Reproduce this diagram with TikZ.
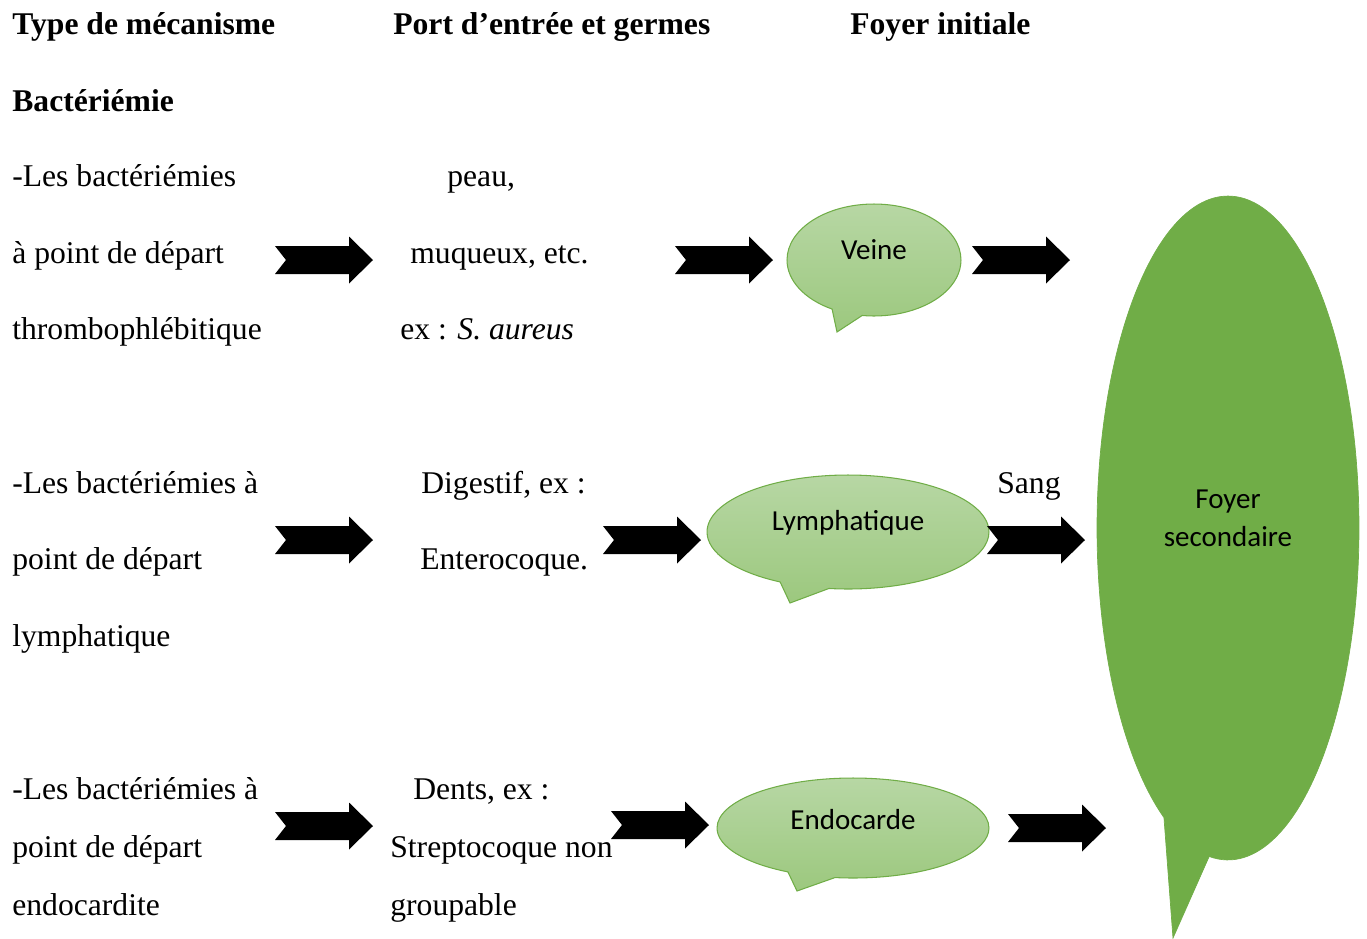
\documentclass[tikz,border=0pt]{standalone}
\usepackage{fontspec}
\setmainfont{Liberation Serif}
\newfontfamily\calfont{Carlito}
\usetikzlibrary{shapes.callouts}
\definecolor{vert}{RGB}{112,173,71}
\definecolor{vertclair}{RGB}{183,215,164}
\definecolor{vertmoyen}{RGB}{156,200,126}

\begin{document}
\begin{tikzpicture}[x = 0.02cm, y = -0.02cm,
    txt/.style = { anchor = base west, inner sep = 0, font = \fontsize{18}{22}\selectfont },
    titre/.style = { txt, font = \fontsize{18}{22}\selectfont\bfseries },
    bulle/.style = { ellipse callout, draw = vert, line width = .6pt, inner sep = 0,
                     callout pointer arc = 21, top color = vertclair, bottom color = vertmoyen },
    bultxt/.style = { inner sep = 0, align = center, font = \calfont\fontsize{16.5}{21.6}\selectfont },
    fatarrow/.pic = { \fill (0,-14) -- (74,-14) -- (74,-23.5) -- (98,0) -- (74,23.5) -- (74,14) -- (0,14) -- (11,0) -- cycle; }]
    \useasboundingbox (0,0) rectangle (1367,938);

    % en-tetes
    \node[titre] (t1) at (12,34) {Type de mécanisme};
    \node[titre] (t2) at (393,34) {Port d’entrée et germes};
    \node[titre] (t3) at (850,34) {Foyer initiale};
    \node[titre] (t4) at (12,111) {Bactériémie};

    % colonne mecanisme
    \node[txt] (m1) at (12,186) {-Les bactériémies};
    \node[txt] (m2) at (12,263) {à point de départ};
    \node[txt] (m3) at (12,339) {thrombophlébitique};
    \node[txt] (m4) at (12,493) {-Les bactériémies à};
    \node[txt] (m5) at (12,569) {point de départ};
    \node[txt] (m6) at (12,646) {lymphatique};
    \node[txt] (m7) at (12,799) {-Les bactériémies à};
    \node[txt] (m8) at (12,857) {point de départ};
    \node[txt] (m9) at (12,915) {endocardite};

    % colonne port d'entree
    \node[txt] (p1) at (447,186) {peau,};
    \node[txt] (p2) at (410,263) {muqueux, etc.};
    \node[txt] (p3) at (400,339) {ex : \textit{S. aureus}};
    \node[txt] (p4) at (421,493) {Digestif, ex :};
    \node[txt] (p5) at (420,569) {Enterocoque.};
    \node[txt] (p6) at (413,799) {Dents, ex :};
    \node[txt] (p7) at (390,857) {Streptocoque non};
    \node[txt] (p8) at (390,915) {groupable};
    \node[txt] (sang) at (997,493) {Sang};

    % bulles
    \node[bulle, minimum width = 3.48cm, minimum height = 2.24cm, callout absolute pointer = {(837,332)}] (veine) at (874,260) {};
    \node[bulle, minimum width = 5.64cm, minimum height = 2.28cm, callout absolute pointer = {(790,603)}] (lymph) at (848,532) {};
    \node[bulle, minimum width = 5.44cm, minimum height = 2.0cm, callout absolute pointer = {(797,891)}] (endo) at (853,828) {};
    \node[ellipse callout, fill = vert, draw = vert, inner sep = 0, callout pointer arc = 21,
          minimum width = 5.24cm, minimum height = 13.28cm, callout absolute pointer = {(1173,938)}] (foyer) at (1228,528) {};
    \node[bultxt] (veinetxt) at ([yshift = .2cm]veine.center) {Veine};
    \node[bultxt] (lymphtxt) at ([yshift = .18cm]lymph.center) {Lymphatique};
    \node[bultxt] (endotxt) at ([yshift = .16cm]endo.center) {Endocarde};
    \node[bultxt] (foyertxt) at ([yshift = .2cm]foyer.center) {Foyer\\secondaire};

    % fleches
    \foreach \x/\y in {275/260, 675/260, 972/260, 275/540, 603/540, 987/540, 275/826, 611/825, 1008/828}
      \pic at (\x,\y) {fatarrow};
\end{tikzpicture}
\end{document}
